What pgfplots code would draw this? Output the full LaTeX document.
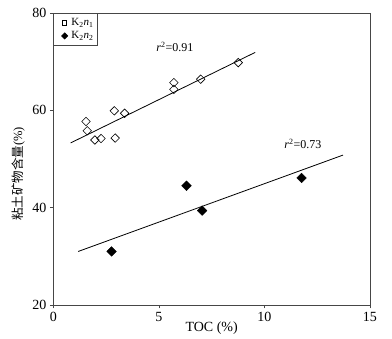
\documentclass[border=0pt]{standalone}
\usepackage{fontspec}
\setmainfont{Liberation Serif}
\newfontfamily\cjk{Noto Sans CJK SC}
\usepackage{pgfplots}
\pgfplotsset{compat=1.18}
\definecolor{axgray}{RGB}{70,70,70}

\begin{document}
\begin{tikzpicture}
\begin{axis}[
  at={(0,0)}, anchor=south west,
  scale only axis,
  width=316.7pt, height=292pt,
  xmin=0, xmax=15, ymin=20, ymax=80,
  xtick={0,5,10,15}, ytick={20,40,60,80},
  xtick pos=left, ytick pos=left,
  tick align=outside, major tick length=3.5pt,
  axis line style={axgray, line width=0.8pt},
  tick style={axgray, line width=0.7pt},
  /pgf/number format/assume math mode=true,
  ticklabel style={font=\fontsize{14}{16}\selectfont},
  xlabel={TOC (\%)},
  xlabel style={font=\fontsize{14}{16}\selectfont, at={(rel axis cs:0.5,-0.079)}, anchor=center},
  legend style={at={(rel axis cs:0,1)}, anchor=north west, draw=axgray, line width=0.8pt,
    font=\fontsize{11}{13}\selectfont, inner xsep=3pt, inner ysep=4pt, row sep=2.5pt,
    nodes={inner sep=1pt}},
  legend cell align=left,
  clip=false,
]
\addlegendimage{legend image code/.code={
  \path[draw=none, fill=none] (-8pt,0pt) rectangle (5.7pt,0.1pt);
  \pgfplotsset{mark size=2.1pt}
  \pgfuseplotmark{square}}, draw=black, line width=0.6pt}
\addlegendentry{K\textsubscript{2}\textit{n}\textsubscript{1}}
\addlegendimage{legend image code/.code={
  \path[draw=none, fill=none] (-8pt,0pt) rectangle (5.7pt,0.1pt);
  \fill[black, rotate=45] (-2.1pt,-2.1pt) rectangle (2.1pt,2.1pt);}}
\addlegendentry{K\textsubscript{2}\textit{n}\textsubscript{2}}

% K2n1 trend line
\addplot[black, line width=0.8pt, forget plot] coordinates {(0.82,53.3) (9.56,71.9)};
% K2n2 trend line
\addplot[black, line width=0.8pt, forget plot] coordinates {(1.18,31.0) (13.72,50.8)};

% K2n1 points
\addplot[only marks, mark=square, mark size=3pt, mark options={black, fill=white, rotate=45, line width=0.6pt}, forget plot]
  coordinates {
  (1.55,57.7) (1.61,55.8) (1.97,53.9) (2.26,54.2) (2.93,54.3)
  (2.89,59.9) (3.38,59.4) (5.71,65.7) (5.71,64.3) (6.98,66.4) (8.76,69.8)
};
% K2n2 points
\addplot[only marks, mark=square*, mark size=3.4pt, mark options={black, rotate=45}, forget plot]
  coordinates {
  (2.76,31.0) (6.31,44.5) (7.05,39.4) (11.76,46.1)
};

\node[font=\fontsize{12}{14}\selectfont] at (axis cs:5.76,73.0) {\textit{r}\textsuperscript{2}=0.91};
\node[font=\fontsize{12}{14}\selectfont] at (axis cs:11.82,53.1) {\textit{r}\textsuperscript{2}=0.73};
\node[rotate=90, anchor=center, font=\fontsize{12.5}{14}\selectfont]
  at (rel axis cs:-0.111,0.449) {{\cjk 粘土矿物含量}(\%)};
\end{axis}
\path[use as bounding box] (-53.3pt,-34pt) rectangle (338.7pt,305pt);
\end{tikzpicture}
\end{document}
